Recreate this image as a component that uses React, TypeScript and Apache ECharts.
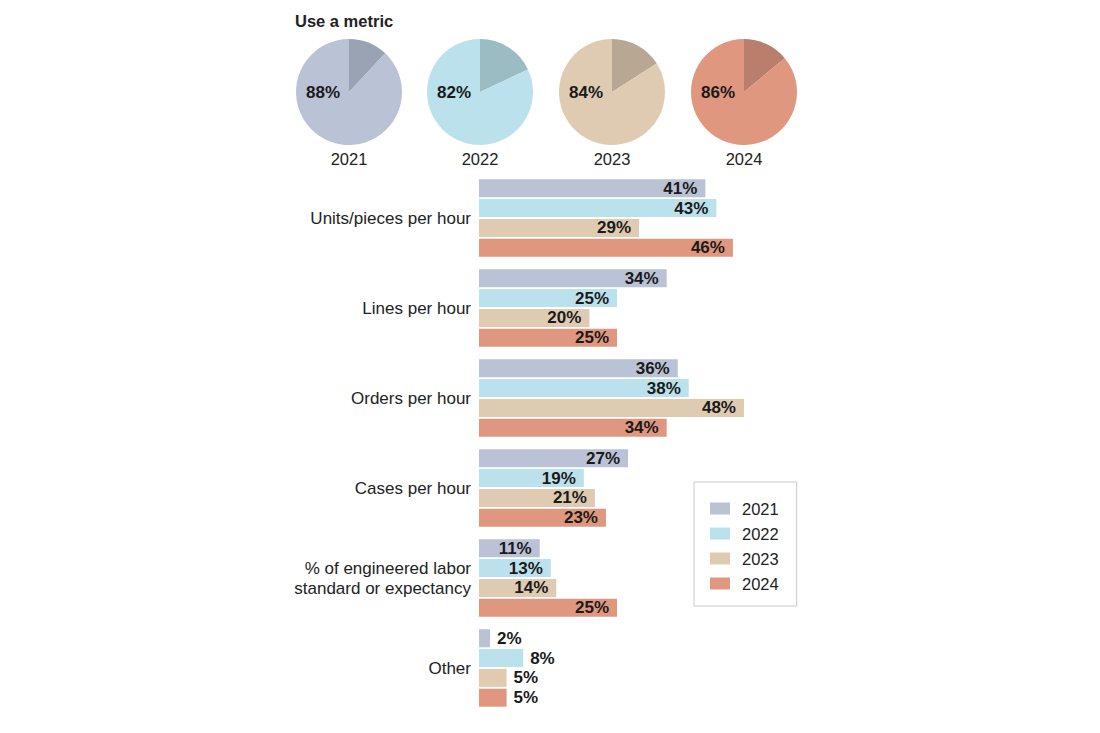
import React, { useEffect, useRef } from "react";
import * as echarts from "echarts";

const years = ["2021", "2022", "2023", "2024"];
const pieValues = [88, 82, 84, 86];
const categories = [
  "Units/pieces per hour",
  "Lines per hour",
  "Orders per hour",
  "Cases per hour",
  "% of engineered labor\nstandard or expectancy",
  "Other",
];
const values2021 = [41, 34, 36, 27, 11, 2];
const values2022 = [43, 25, 38, 19, 13, 8];
const values2023 = [29, 20, 48, 21, 14, 5];
const values2024 = [46, 25, 34, 23, 25, 5];

const lightColors = ["#b9c3d5", "#bbe2ec", "#dfcbb2", "#e0977f"];
const darkColors = ["#9aa3b3", "#9bbcc2", "#b8a893", "#b97f6c"];

const FONT = "'Liberation Sans', Arial, Helvetica, sans-serif";
const pieCentersX = [349, 480, 612, 744];
const pieCenterY = 92;
const pieRadius = 53;

export default function App() {
  const ref = useRef<HTMLDivElement>(null);
  useEffect(() => {
    if (!ref.current) return;
    const chart = echarts.init(ref.current, undefined, { renderer: "svg" });
    const barData = [values2021, values2022, values2023, values2024];

    const pieSeries = years.map((y, i) => ({
      type: "pie",
      name: "pie" + y,
      center: [pieCentersX[i], pieCenterY],
      radius: pieRadius,
      startAngle: 90,
      clockwise: true,
      silent: true,
      label: { show: false },
      labelLine: { show: false },
      emphasis: { disabled: true },
      data: [
        { value: 100 - pieValues[i], itemStyle: { color: darkColors[i] } },
        { value: pieValues[i], itemStyle: { color: lightColors[i] } },
      ],
    }));

    const barSeries = years.map((y, i) => ({
      type: "bar",
      name: y,
      barWidth: 18,
      barGap: "10%",
      itemStyle: { color: lightColors[i] },
      emphasis: { disabled: true },
      data: barData[i].map((v) => ({
        value: v,
        label: {
          show: true,
          position: v < 10 ? "right" : "insideRight",
          distance: v < 10 ? 7 : 8,
          formatter: "{c}%",
          fontFamily: FONT,
          fontWeight: "bold",
          fontSize: 17,
          color: "#1a1a1a",
        },
      })),
    }));

    const graphics: any[] = [
      {
        type: "text",
        left: 295,
        top: 12,
        z: 100,
        style: {
          text: "Use a metric",
          font: `bold 16.5px ${FONT}`,
          fill: "#222",
        },
      },
    ];
    years.forEach((y, i) => {
      graphics.push({
        type: "text",
        x: pieCentersX[i] - 9,
        y: pieCenterY,
        z: 100,
        style: {
          text: pieValues[i] + "%",
          font: `bold 17px ${FONT}`,
          fill: "#1a1a1a",
          align: "right",
          verticalAlign: "middle",
        },
      });
      graphics.push({
        type: "text",
        x: pieCentersX[i],
        y: 159,
        z: 100,
        style: {
          text: y,
          font: `16.5px ${FONT}`,
          fill: "#222",
          align: "center",
          verticalAlign: "middle",
        },
      });
    });

    chart.setOption({
      animation: false,
      textStyle: { fontFamily: FONT },
      grid: { left: 479, top: 173, width: 5.52 * 60, height: 540, containLabel: false },
      xAxis: {
        type: "value",
        min: 0,
        max: 60,
        show: false,
      },
      yAxis: {
        type: "category",
        data: categories,
        inverse: true,
        axisLine: { show: false },
        axisTick: { show: false },
        axisLabel: {
          margin: 8,
          fontSize: 17,
          color: "#222",
          lineHeight: 20,
          fontFamily: FONT,
          align: "right",
        },
      },
      legend: {
        data: years,
        orient: "vertical",
        left: 694,
        top: 482,
        itemWidth: 20,
        itemHeight: 12,
        itemGap: 8,
        padding: [18, 18, 14, 16],
        borderColor: "#c8c8c8",
        borderWidth: 1,
        icon: "rect",
        selectedMode: false,
        textStyle: { fontSize: 16.5, color: "#222", fontFamily: FONT, padding: [0, 0, 0, 7] },
      },
      graphic: graphics,
      series: [...pieSeries, ...barSeries],
    });
    return () => chart.dispose();
  }, []);
  return (
    <div
      ref={ref}
      style={{ position: "fixed", left: 0, top: 0, width: 1100, height: 733, background: "#fff" }}
    />
  );
}
